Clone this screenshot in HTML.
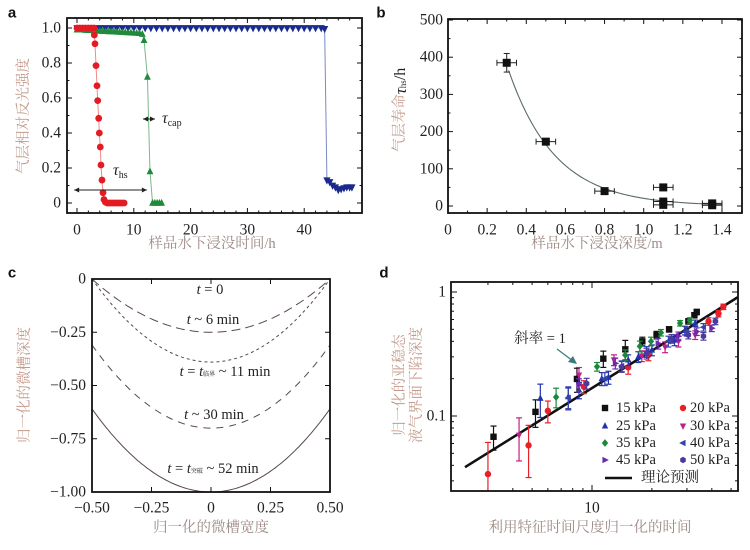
<!DOCTYPE html>
<html><head><meta charset="utf-8">
<style>
html,body{margin:0;padding:0;background:#fff;}
svg{display:block;}
.tk{font-family:"Liberation Serif","Noto Serif CJK SC",serif;font-size:15.5px;fill:#222;}
.ttl{font-family:"Liberation Serif","Noto Serif CJK SC",serif;font-size:14.5px;fill:#9c8a86;}
.yttl{font-family:"Liberation Serif","Noto Serif CJK SC",serif;font-size:14.5px;fill:#c49a8c;}
.pl{font-family:"Liberation Sans",sans-serif;font-size:15px;font-weight:bold;fill:#111;}
.ann{font-family:"Liberation Serif","Noto Serif CJK SC",serif;font-size:14.5px;fill:#222;}
</style></head>
<body>
<svg id="fig" width="750" height="550" viewBox="0 0 750 550" xmlns="http://www.w3.org/2000/svg"></svg>
<script>
// ---------- Panel a data ----------
const redT = [0,0.5,1,1.5,2,2.5,3,3.05,3.17,3.35,3.52,3.64,3.82,3.93,4.1,4.22,4.4,4.58,4.75,5,5.3,5.6,5.9,6.2,6.5,6.8,7.1,7.4,7.7,8,8.3];
const redV = [1,1,1,1,1,1,1,0.96,0.91,0.785,0.67,0.585,0.484,0.40,0.32,0.217,0.131,0.059,0.02,0.005,0,0,0,0,0,0,0,0,0,0,0];
const greenT = [0,0.5,1,1.5,2,2.5,3,3.5,4,4.5,5,5.5,6,6.5,7,7.5,8,8.5,9,9.5,10,10.5,11,11.5,11.8,12.4,12.85,13.3,13.7,14.1,14.5,14.9];
const greenV = [0.99,0.99,0.99,0.988,0.987,0.986,0.985,0.984,0.983,0.982,0.981,0.98,0.98,0.979,0.978,0.977,0.976,0.975,0.974,0.973,0.972,0.971,0.97,0.965,0.93,0.72,0.18,0,0,0,0,0];
const blueT = [0,1,2,3,4,5,6,7,8,9,10,11,12,13,14,15,16,17,18,19,20,21,22,23,24,25,26,27,28,29,30,31,32,33,34,35,36,37,38,39,40,41,42,43,43.6,44,44.5,45,45.5,46,46.5,47,47.5,48,48.4];
const blueV = [1,1,1,1,1,1,1,1,1,1,1,1,1,1,1,1,1,1,1,1,1,1,1,1,1,1,1,1,1,1,1,1,1,1,1,1,1,1,1,1,1,1,1,1,0.995,0.13,0.12,0.1,0.09,0.075,0.08,0.085,0.09,0.09,0.09];
const aXTicks = [0,10,20,30,40];
const aYTicks = [0,0.2,0.4,0.6,0.8,1.0];
const aYLabels = ["0","0.2","0.4","0.6","0.8","1.0"];
// ---------- Panel b data ----------
const bDepth = [0.3,0.5,0.8,1.1,1.1,1.1,1.35,1.35];
const bLife = [385,173,40,50,12,3,7,2];
const bXErr = [0.05,0.05,0.05,0.05,0.05,0.05,0.05,0.05];
const bYErr = [25,5,5,5,5,5,5,3];
const bFitA = 1326, bFitL = 0.24;
const bXTicks = [0,0.2,0.4,0.6,0.8,1.0,1.2,1.4];
const bXLabels = ["0","0.2","0.4","0.6","0.8","1.0","1.2","1.4"];
const bYTicks = [0,100,200,300,400,500];
// ---------- Panel c data ----------
const cNames = ["t0","t6","t11","t30","t52"];
const cEdge = [0,0,0,-0.31,-0.61];
const cCenter = [0,-0.25,-0.39,-0.70,-1.0];
const cDash = ["", "9,5", "3,3", "7,6", ""];
const cXTicks = [-0.5,-0.25,0,0.25,0.5];
const cXLabels = ["\u22120.50","\u22120.25","0","0.25","0.50"];
const cYTicks = [0,-0.25,-0.5,-0.75,-1.0];
const cYLabels = ["0","\u22120.25","\u22120.50","\u22120.75","\u22121.00"];
// ---------- Panel d data ----------
const d15x = [3.2,5.2,8.4,11.4,14.7,17.9,21.1,24.4,30.5,32.7,33.6];
const d15y = [0.068,0.108,0.199,0.29,0.345,0.40,0.45,0.50,0.58,0.65,0.69];
const d15e = [0.22,0.25,0.22,0.15,0.18,0.08,0.07,0.05,0.05,0.05,0.05];
const d20x = [3.0,4.8,6.0,9.1,15.2,19.2,38.5,43.2,45.7];
const d20y = [0.034,0.058,0.110,0.172,0.247,0.31,0.58,0.67,0.76];
const d20e = [0.8,0.45,0.2,0.12,0.12,0.1,0.07,0.06,0.05];
const d25x = [5.5,7.6,8.6,11.2,12.1,15.2,17.1,20,26,29.3,33];
const d25y = [0.139,0.143,0.162,0.20,0.205,0.283,0.30,0.34,0.41,0.49,0.56];
const d25e = [0.3,0.2,0.15,0.12,0.12,0.1,0.1,0.1,0.1,0.08,0.06];
const d30x = [4.3,8.6,12.9,17.8,23.3,27.2,33];
const d30y = [0.070,0.214,0.283,0.305,0.36,0.40,0.45];
const d30e = [0.38,0.15,0.1,0.1,0.1,0.1,0.08];
const d35x = [6.6,10.6,14.7,17.4,19.8,22.2,27.7,31];
const d35y = [0.142,0.25,0.31,0.365,0.40,0.47,0.56,0.59];
const d35e = [0.18,0.08,0.1,0.1,0.08,0.06,0.05,0.05];
const d40x = [7.6,11.6,14.1,18.8,24.2,29.9,36.3];
const d40y = [0.14,0.20,0.253,0.33,0.40,0.48,0.52];
const d40e = [0.2,0.12,0.1,0.1,0.1,0.08,0.07];
const d45x = [8.6,13.1,21.5,27.2,33.6,40];
const d45y = [0.178,0.266,0.385,0.44,0.48,0.51];
const d45e = [0.12,0.1,0.1,0.08,0.07,0.06];
const d50x = [9.4,14.1,18.8,25.1,30.5,36.3,41.7];
const d50y = [0.183,0.25,0.32,0.42,0.45,0.44,0.58];
const d50e = [0.1,0.1,0.1,0.08,0.07,0.07,0.06];
const dTheoryK = 0.0168;
const dTheoryX = [2.3,54];
const dLegend = ["15 kPa","20 kPa","25 kPa","30 kPa","35 kPa","40 kPa","45 kPa","50 kPa"];

const NS = "http://www.w3.org/2000/svg";
const svg = document.getElementById('fig');
function mk(tag, attrs, parent){
  const e = document.createElementNS(NS, tag);
  for (const k in attrs) e.setAttribute(k, attrs[k]);
  (parent||svg).appendChild(e);
  return e;
}
function txt(s, x, y, cls, anchor, parent){
  const t = mk('text', {x:x, y:y, class:cls, 'text-anchor':anchor||'middle', 'dominant-baseline':'central'}, parent);
  t.textContent = s;
  return t;
}
function frame(x0,y0,x1,y1,name){
  const r = mk('rect',{x:x0,y:y0,width:x1-x0,height:y1-y0,fill:'none',stroke:'#111','stroke-width':1.8});
  
  
}
function xtick(x,y0,y1,len){ mk('line',{x1:x,y1:y1,x2:x,y2:y1-len,stroke:'#111','stroke-width':1}); mk('line',{x1:x,y1:y0,x2:x,y2:y0+len,stroke:'#111','stroke-width':1}); }
function ytick(y,x0,x1,len){ mk('line',{x1:x0,y1:y,x2:x0+len,y2:y,stroke:'#111','stroke-width':1}); mk('line',{x1:x1,y1:y,x2:x1-len,y2:y,stroke:'#111','stroke-width':1}); }
function marker(shape, x, y, s, color, parent){
  let e;
  if (shape==='circle') e = mk('circle',{cx:x,cy:y,r:s,fill:color},parent);
  else if (shape==='square') e = mk('rect',{x:x-s,y:y-s,width:2*s,height:2*s,fill:color},parent);
  else if (shape==='up') e = mk('polygon',{points:`${x},${y-s*1.2} ${x-s},${y+s*0.8} ${x+s},${y+s*0.8}`,fill:color},parent);
  else if (shape==='down') e = mk('polygon',{points:`${x},${y+s*1.2} ${x-s},${y-s*0.8} ${x+s},${y-s*0.8}`,fill:color},parent);
  else if (shape==='left') e = mk('polygon',{points:`${x-s*1.2},${y} ${x+s*0.8},${y-s} ${x+s*0.8},${y+s}`,fill:color},parent);
  else if (shape==='right') e = mk('polygon',{points:`${x+s*1.2},${y} ${x-s*0.8},${y-s} ${x-s*0.8},${y+s}`,fill:color},parent);
  else if (shape==='diamond') e = mk('polygon',{points:`${x},${y-s*1.2} ${x+s},${y} ${x},${y+s*1.2} ${x-s},${y}`,fill:color},parent);
  else if (shape==='hex') { let p=[]; for(let i=0;i<6;i++){const a=Math.PI/3*i+Math.PI/6; p.push((x+s*Math.cos(a)).toFixed(1)+','+(y+s*Math.sin(a)).toFixed(1));} e = mk('polygon',{points:p.join(' '),fill:color},parent); }
  return e;
}

// ===================== Panel a =====================
const aX = t => 77 + t*5.68;
const aY = v => 203 - v*175;
txt('a', 12, 13, 'pl', 'middle');
aXTicks.forEach(t=>{ xtick(aX(t),18,213,5); const l=txt(String(t), aX(t), 230, 'tk');   });
for (let t=2;t<50;t+=2){ if(t%10) xtick(aX(t),18,213,2.5); }
aYTicks.forEach((v,i)=>{ ytick(aY(v),67,362,5); const l=txt(aYLabels[i], 61, aY(v), 'tk', 'end');   });
for (let v=0.1; v<1.05; v+=0.2) ytick(aY(v),67,362,2.5);
function aSeries(T,V,color,lineColor,shape,size,name){
  const g = mk('g',{});
  
  
  mk('polyline',{points:T.map((t,i)=>aX(t)+','+aY(V[i])).join(' '),fill:'none',stroke:lineColor,'stroke-width':1},g);
  T.forEach((t,i)=>{ const m = marker(shape,aX(t),aY(V[i]),size,color,g);
    
     });
}
aSeries(blueT,blueV,'#1a2a8c','#7a8ac0','down',3.6,'a-series-blue');
aSeries(greenT,greenV,'#1f8a3a','#7ab88a','up',3.4,'a-series-green');
aSeries(redT,redV,'#e31b23','#f08a8a','circle',3.4,'a-series-red');
frame(67,18,362,213,'a-plot-frame');
function harrow(x1,x2,y,name){
  const g = mk('g',{});
  
  
  mk('line',{x1:x1,y1:y,x2:x2,y2:y,stroke:'#222','stroke-width':1},g);
  mk('polygon',{points:`${x1},${y} ${x1+5},${y-2.5} ${x1+5},${y+2.5}`,fill:'#222'},g);
  mk('polygon',{points:`${x2},${y} ${x2-5},${y-2.5} ${x2-5},${y+2.5}`,fill:'#222'},g);
}
harrow(aX(-0.5),aX(12.3),190,'tau-hs-arrow');
harrow(143,155,119,'tau-cap-arrow');
{ const t = mk('text',{x:113,y:175,class:'ann'}); t.innerHTML='<tspan font-style="italic" font-size="16">τ</tspan><tspan font-size="10" dy="3">hs</tspan>';   }
{ const t = mk('text',{x:162,y:123,class:'ann'}); t.innerHTML='<tspan font-style="italic" font-size="16">τ</tspan><tspan font-size="10" dy="3">cap</tspan>';   }
{ const t = txt('气层相对反光强度', 0, 0, 'yttl'); t.setAttribute('transform','translate(24,116) rotate(-90)');   }
{ const t = txt('样品水下浸没时间/h', 212, 244, 'ttl');   }

// ===================== Panel b =====================
const bX = d => 448 + d*195.7;
const bY = v => 206 - v*0.372;
txt('b', 381, 13, 'pl');
bXTicks.forEach((d,i)=>{ xtick(bX(d),19,213,5); const l=txt(bXLabels[i], bX(d), 230, 'tk');   });
for (let d=0.1; d<1.5; d+=0.2) xtick(bX(d),19,213,2.5);
bYTicks.forEach(v=>{ ytick(bY(v),448,742,5); const l=txt(String(v), 443, bY(v), 'tk', 'end');   });
for (let v=50; v<500; v+=50) if (v%100) ytick(bY(v),448,742,2.5);
{ let pts=[]; for (let d=0.31; d<=1.401; d+=0.01) pts.push(bX(d)+','+bY(bFitA*Math.exp(-d/bFitL)));
  const p = mk('polyline',{points:pts.join(' '),fill:'none',stroke:'#5a6a6a','stroke-width':1.1});
    }
bDepth.forEach((d,i)=>{
  const g = mk('g',{});
  
  
  const x=bX(d), y=bY(bLife[i]);
  const x0=bX(d-bXErr[i]), x1=bX(d+bXErr[i]), y0=bY(bLife[i]-bYErr[i]), y1=bY(bLife[i]+bYErr[i]);
  mk('line',{x1:x0,y1:y,x2:x1,y2:y,stroke:'#222','stroke-width':1},g);
  mk('line',{x1:x0,y1:y-3,x2:x0,y2:y+3,stroke:'#222','stroke-width':1},g);
  mk('line',{x1:x1,y1:y-3,x2:x1,y2:y+3,stroke:'#222','stroke-width':1},g);
  mk('line',{x1:x,y1:y0,x2:x,y2:y1,stroke:'#222','stroke-width':1},g);
  mk('line',{x1:x-3,y1:y0,x2:x+3,y2:y0,stroke:'#222','stroke-width':1},g);
  mk('line',{x1:x-3,y1:y1,x2:x+3,y2:y1,stroke:'#222','stroke-width':1},g);
  marker('square',x,y,4,'#111',g);
});
frame(448,19,742,213,'b-plot-frame');
{ const t = mk('text',{class:'yttl','text-anchor':'middle','dominant-baseline':'central',transform:'translate(400,110) rotate(-90)'});
  t.innerHTML='气层寿命<tspan fill="#222" font-style="italic" font-size="17">τ</tspan><tspan fill="#222" font-size="9" dy="3">hs</tspan><tspan fill="#222" dy="-3" font-size="16">/h</tspan>';
    }
{ const t = txt('样品水下浸没深度/m', 597, 244, 'ttl');   }

// ===================== Panel c =====================
const cX = x => 92 + (x+0.5)*238;
const cYs = v => 279 + (-v)*213;
txt('c', 12, 273, 'pl');
cXTicks.forEach((x,i)=>{ xtick(cX(x),279,492,5); const l=txt(cXLabels[i], cX(x), 508, 'tk');   });
cYTicks.forEach((v,i)=>{ ytick(cYs(v),92,330,5); const l=txt(cYLabels[i], 86, cYs(v), 'tk', 'end');   });
cNames.forEach((n,i)=>{
  let pts=[]; for (let x=-0.5; x<=0.5001; x+=0.01){ const v = cCenter[i] + (cEdge[i]-cCenter[i])*4*x*x; pts.push(cX(x).toFixed(1)+','+cYs(v).toFixed(1)); }
  const a = {points:pts.join(' '),fill:'none',stroke:i===0?'#4a8a9a':'#5a4848','stroke-width':1};
  if (cDash[i]) a['stroke-dasharray']=cDash[i];
  const p = mk('polyline',a);
  
  
});
function cLabel(html,x,y,name){ const t=mk('text',{x:x,y:y,class:'ann','text-anchor':'middle','dominant-baseline':'central'}); t.innerHTML=html;   }
cLabel('<tspan font-style="italic">t</tspan> = 0',210,290,'c-label-t0');
cLabel('<tspan font-style="italic">t</tspan> ~ 6 min',213,320,'c-label-t6');
cLabel('<tspan font-style="italic">t</tspan> = <tspan font-style="italic">t</tspan><tspan font-size="6" dy="3">临界</tspan><tspan dy="-3"> ~ 11 min</tspan>',225,372,'c-label-t11');
cLabel('<tspan font-style="italic">t</tspan> ~ 30 min',214,415,'c-label-t30');
cLabel('<tspan font-style="italic">t</tspan> = <tspan font-style="italic">t</tspan><tspan font-size="6" dy="3">突破</tspan><tspan dy="-3"> ~ 52 min</tspan>',213,469,'c-label-t52');
frame(92,279,330,492,'c-plot-frame');
{ const t = txt('归一化的微槽深度', 0, 0, 'yttl'); t.setAttribute('transform','translate(25,385) rotate(-90)');   }
{ const t = txt('归一化的微槽宽度', 211, 528, 'ttl');   }

// ===================== Panel d =====================
const dX = x => 592 + (Math.log10(x)-1)*199;
const dY = y => 292 - Math.log10(y)*124;
txt('d', 384, 273, 'pl');
{ xtick(dX(10),282,491,6); const l=txt('10', dX(10), 508, 'tk');   }
[3,4,5,6,7,8,9,20,30,40,50].forEach(v=>xtick(dX(v),282,491,3));
[[1,'1'],[0.1,'0.1']].forEach(p=>{ ytick(dY(p[0]),451,738,6); const l=txt(p[1], 446, dY(p[0]), 'tk', 'end');   });
[0.03,0.04,0.05,0.06,0.07,0.08,0.09,0.2,0.3,0.4,0.5,0.6,0.7,0.8,0.9].forEach(v=>ytick(dY(v),451,738,3));
{ const p = mk('line',{x1:dX(dTheoryX[0]),y1:dY(dTheoryK*dTheoryX[0]),x2:dX(dTheoryX[1]),y2:dY(dTheoryK*dTheoryX[1]),stroke:'#111','stroke-width':2.6});
    }
const dSeries = [
  [d15x,d15y,d15e,'square','#111','15kpa'],
  [d20x,d20y,d20e,'circle','#e8202a','20kpa'],
  [d25x,d25y,d25e,'up','#2233aa','25kpa'],
  [d30x,d30y,d30e,'down','#c0208a','30kpa'],
  [d35x,d35y,d35e,'diamond','#1a8a3a','35kpa'],
  [d40x,d40y,d40e,'left','#3344aa','40kpa'],
  [d45x,d45y,d45e,'right','#6a2aaa','45kpa'],
  [d50x,d50y,d50e,'hex','#4a3aa0','50kpa']
];
dSeries.forEach(s=>{
  const g = mk('g',{});
  
  
  s[0].forEach((x,i)=>{
    const px=dX(x), py=dY(s[1][i]);
    const ylo=Math.min(491,dY(s[1][i]*(1-s[2][i]))), yhi=dY(s[1][i]*(1+s[2][i]));
    mk('line',{x1:px,y1:ylo,x2:px,y2:yhi,stroke:s[4],'stroke-width':1.2},g);
    mk('line',{x1:px-3,y1:yhi,x2:px+3,y2:yhi,stroke:s[4],'stroke-width':1.2},g);
    if (ylo<491) mk('line',{x1:px-3,y1:ylo,x2:px+3,y2:ylo,stroke:s[4],'stroke-width':1.2},g);
    const m = marker(s[3],px,py,3.2,s[4],g);
    
    
  });
});
{ const t = txt('斜率 = 1', 540, 339, 'ann'); t.setAttribute('fill','#555');  
  const g = mk('g',{});  
  mk('line',{x1:557,y1:349,x2:573,y2:361,stroke:'#3a7a7a','stroke-width':1.2},g);
  mk('polygon',{points:'577,364 568,362 573,356',fill:'#3a7a7a'},g); }
{ const lg = mk('g',{});  
  const rows=[408,426,443,460];
  dSeries.forEach((s,i)=>{
    const col=i%2, row=Math.floor(i/2);
    const mx = col? 683:605, ty=rows[row];
    const e = mk('g',{},lg);  
    marker(s[3],mx,ty,3.2,s[4],e);
    txt(dLegend[i], col?690:616, ty, 'ann', 'start', e);
  });
  const e = mk('g',{},lg);  
  mk('line',{x1:605,y1:478,x2:632,y2:478,stroke:'#111','stroke-width':2.6},e);
  txt('理论预测', 641, 478, 'ann', 'start', e).setAttribute('font-size','13'); }
frame(451,282,738,491,'d-plot-frame');
{ const t = mk('text',{class:'yttl','text-anchor':'middle',transform:'translate(406,385) rotate(-90)'});
  t.innerHTML='<tspan x="0" dy="-2">归一化的亚稳态</tspan><tspan x="0" dy="17">液气界面下陷深度</tspan>';
    }
{ const t = txt('利用特征时间尺度归一化的时间', 590, 528, 'ttl');   }
</script>
</body></html>
